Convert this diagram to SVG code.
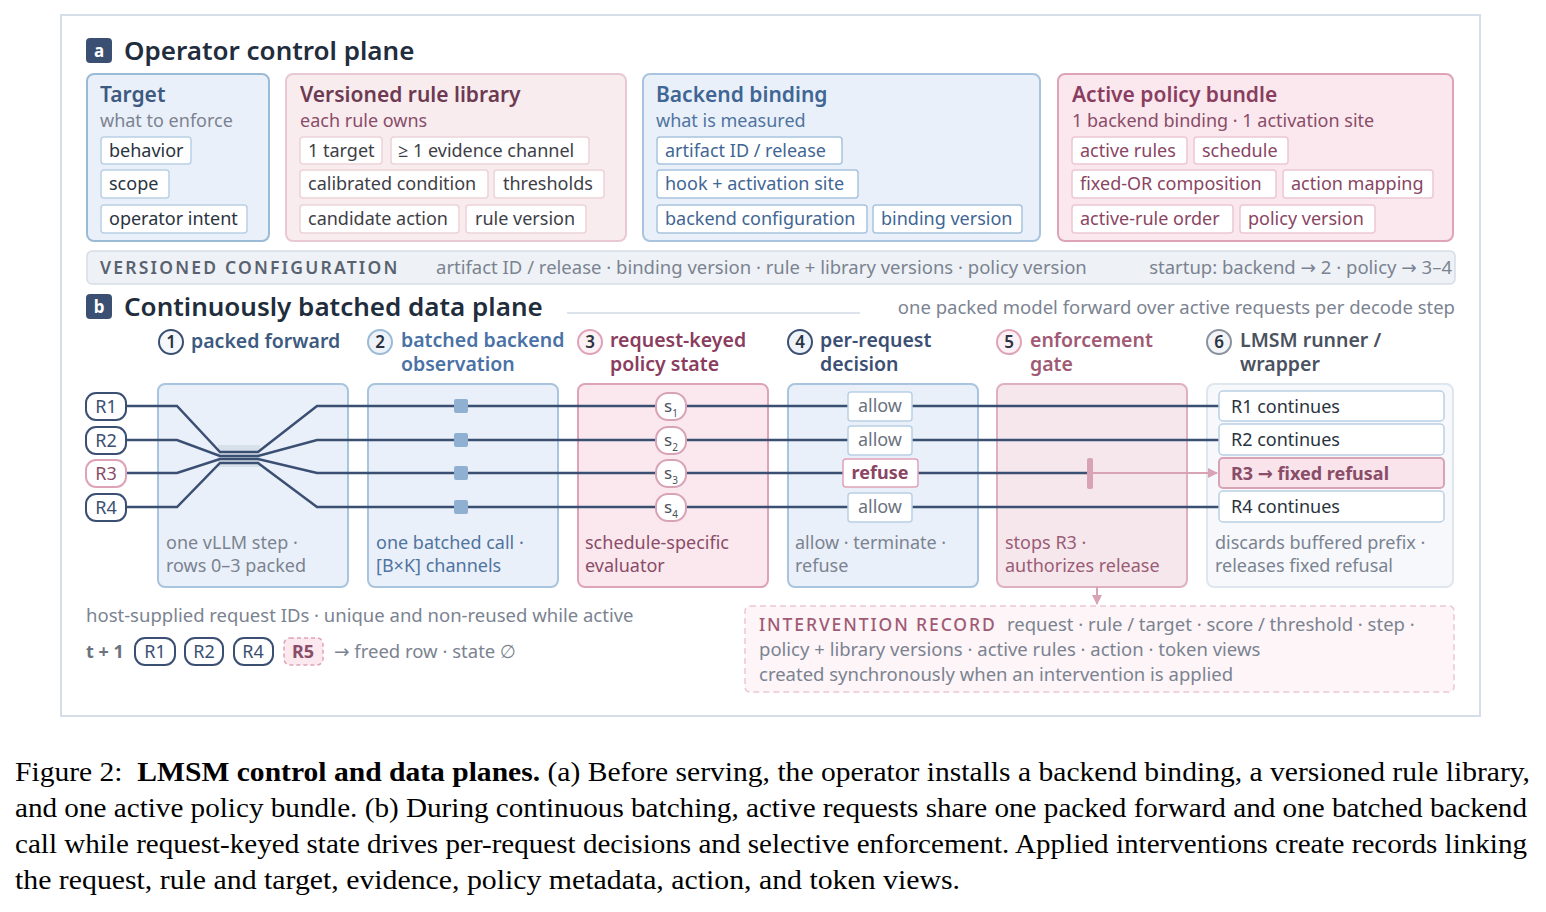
<svg xmlns="http://www.w3.org/2000/svg" width="1546" height="912" viewBox="0 0 1546 912">
<defs>
<style>
text{font-family:"Noto Sans","Open Sans","DejaVu Sans",sans-serif;}
.ttl{font-size:26px;font-weight:600;fill:#1f2d3d;}
.badge{fill:#3b4f73;}
.badget{font-size:17px;font-weight:700;fill:#fff;text-anchor:middle;}
.ph{font-size:21px;font-weight:600;}
.ps{font-size:18px;}
.pw{font-size:18.5px;}
.chip{fill:#fff;stroke-width:1.5;}
.ct{font-size:18px;}
.grey{fill:#7b8391;}
.blue{fill:#46699a;}
.maroon{fill:#7a3d58;}
.navy{fill:#3b4f73;}
.dark{fill:#2a3340;}
.bpan{fill:#eaf0f9;stroke:#a9c4de;stroke-width:2;}
.ppan{fill:#fae8ee;stroke:#dfa3b8;stroke-width:2;}
.hd{font-size:19.5px;font-weight:600;}
.num{font-size:17px;font-weight:600;fill:#2a3340;text-anchor:middle;}
.ft{font-size:18px;}
.lane{fill:none;stroke:#3b4f73;stroke-width:2.5;}
.cap{font-family:"Liberation Serif","Times New Roman",serif;font-size:27px;fill:#000;}
</style>
<marker id="pa" viewBox="0 0 10 10" refX="9" refY="5" markerWidth="5" markerHeight="5" orient="auto" markerUnits="strokeWidth"><path d="M0,0 L10,5 L0,10 z" fill="#d9a3b6"/></marker>
</defs>
<rect x="0" y="0" width="1546" height="912" fill="#fff"/>
<rect x="61" y="15" width="1419" height="701" fill="#fff" stroke="#d5dde8" stroke-width="2"/>

<g id="section-a-title">
<rect class="badge" x="86" y="38" width="26" height="25" rx="4"/>
<text class="badget" x="99" y="57">a</text>
<text class="ttl" x="124" y="60">Operator control plane</text>
</g>

<g id="target">
<rect x="87" y="74" width="182" height="167" rx="7" fill="#eaf0f9" stroke="#9bbad6" stroke-width="2"/>
<text class="ph" x="100" y="102" fill="#3d5a80">Target</text>
<text class="ps grey" x="100" y="127">what to enforce</text>
<g stroke="#b9d0e5">
<rect class="chip" x="101" y="137" width="90" height="27" rx="3"/>
<rect class="chip" x="101" y="170" width="68" height="28" rx="3"/>
<rect class="chip" x="101" y="205" width="146" height="28" rx="3"/>
</g>
<text class="ct dark" x="109" y="157">behavior</text>
<text class="ct dark" x="109" y="190">scope</text>
<text class="ct dark" x="109" y="225">operator intent</text>
</g>

<g id="rule-library">
<rect x="286" y="74" width="340" height="167" rx="7" fill="#f8ecef" stroke="#e8c8d2" stroke-width="2"/>
<text class="ph" x="300" y="102" fill="#6e3a52">Versioned rule library</text>
<text class="ps" x="300" y="127" fill="#8a4c68">each rule owns</text>
<g stroke="#ebd3da">
<rect class="chip" x="300" y="137" width="82" height="27" rx="3"/>
<rect class="chip" x="391" y="137" width="198" height="27" rx="3"/>
<rect class="chip" x="300" y="170" width="188" height="28" rx="3"/>
<rect class="chip" x="494" y="170" width="110" height="28" rx="3"/>
<rect class="chip" x="300" y="205" width="159" height="28" rx="3"/>
<rect class="chip" x="466" y="205" width="120" height="28" rx="3"/>
</g>
<text class="ct" x="308" y="157" fill="#3e3e46">1 target</text>
<text class="ct" x="398" y="157" fill="#3e3e46">≥ 1 evidence channel</text>
<text class="ct" x="308" y="190" fill="#3e3e46">calibrated condition</text>
<text class="ct" x="503" y="190" fill="#3e3e46">thresholds</text>
<text class="ct" x="308" y="225" fill="#3e3e46">candidate action</text>
<text class="ct" x="475" y="225" fill="#3e3e46">rule version</text>
</g>

<g id="backend-binding">
<rect x="643" y="74" width="397" height="167" rx="7" fill="#eaf0f9" stroke="#a9c4de" stroke-width="2"/>
<text class="ph" x="656" y="102" fill="#3f6694">Backend binding</text>
<text class="ps" x="656" y="127" fill="#4f74a0">what is measured</text>
<g stroke="#a9c4de">
<rect class="chip" x="657" y="137" width="185" height="27" rx="3"/>
<rect class="chip" x="657" y="170" width="201" height="28" rx="3"/>
<rect class="chip" x="657" y="205" width="210" height="28" rx="3"/>
<rect class="chip" x="873" y="205" width="149" height="28" rx="3"/>
</g>
<text class="ct" x="665" y="157" fill="#3f6694">artifact ID / release</text>
<text class="ct" x="665" y="190" fill="#3f6694">hook + activation site</text>
<text class="ct" x="665" y="225" fill="#3f6694">backend configuration</text>
<text class="ct" x="881" y="225" fill="#3f6694">binding version</text>
</g>

<g id="policy-bundle">
<rect x="1058" y="74" width="395" height="167" rx="7" fill="#fae8ee" stroke="#dfa3b8" stroke-width="2"/>
<text class="ph" x="1072" y="102" fill="#8a3d5e">Active policy bundle</text>
<text class="ps" x="1072" y="127" fill="#8a4c68">1 backend binding · 1 activation site</text>
<g stroke="#ecc8d4">
<rect class="chip" x="1072" y="137" width="115" height="27" rx="3"/>
<rect class="chip" x="1194" y="137" width="94" height="27" rx="3"/>
<rect class="chip" x="1072" y="170" width="204" height="28" rx="3"/>
<rect class="chip" x="1283" y="170" width="150" height="28" rx="3"/>
<rect class="chip" x="1072" y="205" width="161" height="28" rx="3"/>
<rect class="chip" x="1240" y="205" width="135" height="28" rx="3"/>
</g>
<text class="ct" x="1080" y="157" fill="#8a4563">active rules</text>
<text class="ct" x="1202" y="157" fill="#8a4563">schedule</text>
<text class="ct" x="1080" y="190" fill="#8a4563">fixed-OR composition</text>
<text class="ct" x="1291" y="190" fill="#8a4563">action mapping</text>
<text class="ct" x="1080" y="225" fill="#8a4563">active-rule order</text>
<text class="ct" x="1248" y="225" fill="#8a4563">policy version</text>
</g>

<g id="versioned-config">
<rect x="87" y="251" width="1368" height="33" rx="5" fill="#eef2f6" stroke="#d6dde6" stroke-width="1.5"/>
<text x="100" y="274" font-size="17.5" font-weight="600" letter-spacing="2.2" fill="#596270">VERSIONED CONFIGURATION</text>
<text class="pw grey" x="436" y="274">artifact ID / release · binding version · rule + library versions · policy version</text>
<text class="pw grey" x="1452" y="274" text-anchor="end">startup: backend → 2 · policy → 3–4</text>
</g>

<g id="section-b-title">
<rect class="badge" x="86" y="294" width="26" height="25" rx="4"/>
<text class="badget" x="99" y="313">b</text>
<text class="ttl" x="124" y="316" font-size="26.5">Continuously batched data plane</text>
<line x1="567" y1="313" x2="860" y2="313" stroke="#dde3ea" stroke-width="2"/>
<text class="pw grey" x="1455" y="314" text-anchor="end">one packed model forward over active requests per decode step</text>
</g>

<g id="col1-packed-forward">
<circle cx="171" cy="342" r="12" fill="#f4f7fb" stroke="#3b4f73" stroke-width="2"/>
<text class="num" x="171" y="348">1</text>
<text class="hd" x="191" y="348" fill="#3d5a80">packed forward</text>
<rect class="bpan" x="158" y="384" width="190" height="203" rx="7"/>
<rect x="218" y="445" width="42" height="22" fill="#d8e0ea"/>
<text class="ft grey" x="166" y="549">one vLLM step ·</text>
<text class="ft grey" x="166" y="572">rows 0–3 packed</text>
</g>

<g id="col2-backend-observation">
<circle cx="380" cy="342" r="12" fill="#eef3fa" stroke="#9bbad6" stroke-width="2"/>
<text class="num" x="380" y="348">2</text>
<text class="hd" x="401" y="347" fill="#4a72a6">batched backend</text>
<text class="hd" x="401" y="371" fill="#4a72a6">observation</text>
<rect class="bpan" x="368" y="384" width="190" height="203" rx="7"/>
<text class="ft" x="376" y="549" fill="#4f74a0">one batched call ·</text>
<text class="ft" x="376" y="572" fill="#4f74a0">[B×K] channels</text>
</g>

<g id="col3-policy-state">
<circle cx="590" cy="342" r="12" fill="#fcf1f5" stroke="#dfa3b8" stroke-width="2"/>
<text class="num" x="590" y="348">3</text>
<text class="hd" x="610" y="347" fill="#8a3d5e">request-keyed</text>
<text class="hd" x="610" y="371" fill="#8a3d5e">policy state</text>
<rect class="ppan" x="578" y="384" width="190" height="203" rx="7"/>
<text class="ft" x="585" y="549" fill="#8a4c68">schedule-specific</text>
<text class="ft" x="585" y="572" fill="#8a4c68">evaluator</text>
</g>

<g id="col4-decision">
<circle cx="800" cy="342" r="12" fill="#eef3fa" stroke="#3b4f73" stroke-width="2"/>
<text class="num" x="800" y="348">4</text>
<text class="hd" x="820" y="347" fill="#3b4f73">per-request</text>
<text class="hd" x="820" y="371" fill="#3b4f73">decision</text>
<rect class="bpan" x="788" y="384" width="190" height="203" rx="7"/>
<text class="ft grey" x="795" y="549">allow · terminate ·</text>
<text class="ft grey" x="795" y="572">refuse</text>
</g>

<g id="col5-gate">
<circle cx="1009" cy="342" r="12" fill="#fcf1f5" stroke="#dfa3b8" stroke-width="2"/>
<text class="num" x="1009" y="348">5</text>
<text class="hd" x="1030" y="347" fill="#a05a75">enforcement</text>
<text class="hd" x="1030" y="371" fill="#a05a75">gate</text>
<rect x="997" y="384" width="190" height="203" rx="7" fill="#f6e7ec" stroke="#dfb0c0" stroke-width="2"/>
<text class="ft" x="1005" y="549" fill="#9a5c76">stops R3 ·</text>
<text class="ft" x="1005" y="572" fill="#9a5c76">authorizes release</text>
</g>

<g id="col6-runner">
<circle cx="1219" cy="342" r="12" fill="#f2f4f7" stroke="#8a929e" stroke-width="2"/>
<text class="num" x="1219" y="348">6</text>
<text class="hd" x="1240" y="347" fill="#4a5260">LMSM runner /</text>
<text class="hd" x="1240" y="371" fill="#4a5260">wrapper</text>
<rect x="1207" y="384" width="246" height="203" rx="7" fill="#f6f8fb" stroke="#dfe6ee" stroke-width="2"/>
<text class="ft grey" x="1215" y="549">discards buffered prefix ·</text>
<text class="ft grey" x="1215" y="572">releases fixed refusal</text>
</g>

<g id="connectors">
<path class="lane" d="M126,406 H177 L220,452 H258 L317,406 H1219"/>
<path class="lane" d="M126,440 H177 L220,456 H258 L317,440 H1219"/>
<path class="lane" d="M126,473 H177 L220,459 H258 L317,473 H1090"/>
<path class="lane" d="M126,507 H177 L220,463 H258 L317,507 H1219"/>
<line x1="1090" y1="473" x2="1217" y2="473" stroke="#d9a3b6" stroke-width="2" marker-end="url(#pa)"/>
<line x1="1097" y1="587" x2="1097" y2="604" stroke="#d9a3b6" stroke-width="2" marker-end="url(#pa)"/>
</g>

<g id="requests">
<rect x="86" y="393" width="40" height="27" rx="10" fill="#fff" stroke="#3b4f73" stroke-width="2"/>
<rect x="86" y="427" width="40" height="27" rx="10" fill="#fff" stroke="#3b4f73" stroke-width="2"/>
<rect x="86" y="460" width="40" height="27" rx="10" fill="#fff" stroke="#dfa3b8" stroke-width="2"/>
<rect x="86" y="494" width="40" height="27" rx="10" fill="#fff" stroke="#3b4f73" stroke-width="2"/>
<text class="ct navy" x="106" y="413" text-anchor="middle">R1</text>
<text class="ct navy" x="106" y="447" text-anchor="middle">R2</text>
<text class="ct" x="106" y="480" text-anchor="middle" fill="#8a4c68">R3</text>
<text class="ct navy" x="106" y="514" text-anchor="middle">R4</text>
</g>

<g id="observation-taps" fill="#8fb0d0">
<rect x="454" y="399" width="14" height="14" rx="2"/>
<rect x="454" y="433" width="14" height="14" rx="2"/>
<rect x="454" y="466" width="14" height="14" rx="2"/>
<rect x="454" y="500" width="14" height="14" rx="2"/>
</g>

<g id="states">
<g fill="#fff" stroke="#d9a3b6" stroke-width="2">
<rect x="656" y="393" width="30" height="27" rx="12"/>
<rect x="656" y="427" width="30" height="27" rx="12"/>
<rect x="656" y="460" width="30" height="27" rx="12"/>
<rect x="656" y="494" width="30" height="27" rx="12"/>
</g>
<g font-size="17" fill="#4a5260">
<text x="664" y="412">s<tspan font-size="10" dy="5">1</tspan></text>
<text x="664" y="446">s<tspan font-size="10" dy="5">2</tspan></text>
<text x="664" y="479">s<tspan font-size="10" dy="5">3</tspan></text>
<text x="664" y="513">s<tspan font-size="10" dy="5">4</tspan></text>
</g>
</g>

<g id="decisions">
<rect class="chip" x="848" y="392" width="64" height="29" rx="3" stroke="#b9d0e5"/>
<rect class="chip" x="848" y="426" width="64" height="29" rx="3" stroke="#b9d0e5"/>
<rect class="chip" x="843" y="459" width="75" height="28" rx="3" stroke="#dfa3b8"/>
<rect class="chip" x="848" y="493" width="64" height="29" rx="3" stroke="#b9d0e5"/>
<text class="ct" x="880" y="412" text-anchor="middle" fill="#6b7380">allow</text>
<text class="ct" x="880" y="446" text-anchor="middle" fill="#6b7380">allow</text>
<text class="ct" x="880" y="479" text-anchor="middle" fill="#8a4563" font-weight="700">refuse</text>
<text class="ct" x="880" y="513" text-anchor="middle" fill="#6b7380">allow</text>
</g>

<g id="gate-bar">
<rect x="1087" y="458" width="6" height="31" rx="2" fill="#d9a3b6"/>
</g>

<g id="outcomes">
<rect class="chip" x="1219" y="391" width="225" height="30" rx="4" stroke="#b9d0e5" stroke-width="2"/>
<rect class="chip" x="1219" y="424" width="225" height="31" rx="4" stroke="#b9d0e5" stroke-width="2"/>
<rect x="1219" y="458" width="225" height="30" rx="4" fill="#f8e4ea" stroke="#d9a3b6" stroke-width="2"/>
<rect class="chip" x="1219" y="491" width="225" height="31" rx="4" stroke="#b9d0e5" stroke-width="2"/>
<text class="ct dark" x="1231" y="413">R1 continues</text>
<text class="ct dark" x="1231" y="446">R2 continues</text>
<text class="ct" x="1231" y="480" font-weight="700" fill="#8a4c68">R3 → fixed refusal</text>
<text class="ct dark" x="1231" y="513">R4 continues</text>
</g>

<g id="request-ids">
<text class="pw grey" x="86" y="622">host-supplied request IDs · unique and non-reused while active</text>
<text x="86" y="658" font-size="18" font-weight="700" fill="#6b7380">t + 1</text>
<rect x="135" y="638" width="40" height="27" rx="10" fill="#fff" stroke="#3b4f73" stroke-width="2"/>
<rect x="185" y="638" width="38" height="27" rx="10" fill="#fff" stroke="#3b4f73" stroke-width="2"/>
<rect x="234" y="638" width="39" height="27" rx="10" fill="#fff" stroke="#3b4f73" stroke-width="2"/>
<rect x="284" y="638" width="39" height="27" rx="6" fill="#fbe9ef" stroke="#dfa3b8" stroke-width="1.5" stroke-dasharray="4 3"/>
<text class="ct navy" x="155" y="658" text-anchor="middle">R1</text>
<text class="ct navy" x="204" y="658" text-anchor="middle">R2</text>
<text class="ct navy" x="253" y="658" text-anchor="middle">R4</text>
<text class="ct" x="303" y="658" text-anchor="middle" font-weight="700" fill="#8a4c68">R5</text>
<text class="pw grey" x="334" y="658">→ freed row · state ∅</text>
</g>

<g id="intervention-record">
<rect x="745" y="606" width="709" height="86" rx="5" fill="#fdf5f7" stroke="#ecc8d4" stroke-width="1.5" stroke-dasharray="6 4"/>
<text x="759" y="631" font-size="17.5" font-weight="500" letter-spacing="1.9" fill="#a05a75">INTERVENTION RECORD</text>
<text class="pw grey" x="1007" y="631">request · rule / target · score / threshold · step ·</text>
<text class="pw grey" x="759" y="656">policy + library versions · active rules · action · token views</text>
<text class="pw grey" x="759" y="681">created synchronously when an intervention is applied</text>
</g>

<g id="caption">
<text class="cap" x="15" y="781" textLength="1515" lengthAdjust="spacingAndGlyphs">Figure 2:&#160; <tspan font-weight="700">LMSM control and data planes.</tspan> (a) Before serving, the operator installs a backend binding, a versioned rule library,</text>
<text class="cap" x="15" y="817" textLength="1512" lengthAdjust="spacingAndGlyphs">and one active policy bundle. (b) During continuous batching, active requests share one packed forward and one batched backend</text>
<text class="cap" x="15" y="853" textLength="1512" lengthAdjust="spacingAndGlyphs">call while request-keyed state drives per-request decisions and selective enforcement. Applied interventions create records linking</text>
<text class="cap" x="15" y="889" textLength="945" lengthAdjust="spacingAndGlyphs">the request, rule and target, evidence, policy metadata, action, and token views.</text>
</g>
</svg>
